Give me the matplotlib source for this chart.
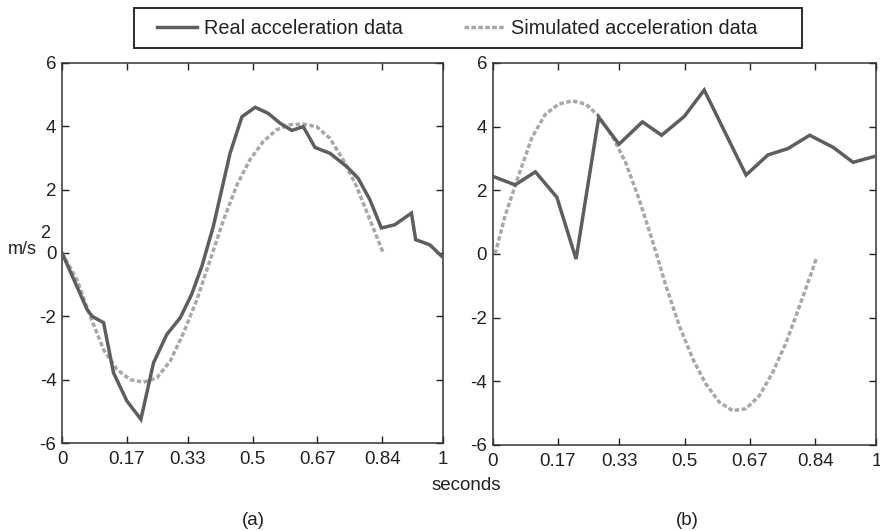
import matplotlib
matplotlib.use('Agg')
import matplotlib.pyplot as plt
from matplotlib.patches import Rectangle

plt.rcParams['font.family'] = ['Liberation Sans', 'DejaVu Sans']
plt.rcParams['axes.unicode_minus'] = False

REAL_C = '#5e5e5e'
SIM_C = '#a8a8a8'
TXT_C = '#222222'

# panel (a)
real_a_x = [0, 0.066, 0.079, 0.109, 0.135, 0.17, 0.207, 0.24, 0.275, 0.31, 0.34, 0.367,
            0.397, 0.419, 0.441, 0.472, 0.507, 0.541, 0.572, 0.603, 0.633, 0.664, 0.703,
            0.747, 0.777, 0.808, 0.838, 0.873, 0.917, 0.928, 0.965, 0.996]
real_a_y = [0, -1.79, -2.0, -2.2, -3.78, -4.67, -5.25, -3.47, -2.57, -2.05, -1.31, -0.42,
            0.84, 2.0, 3.15, 4.3, 4.6, 4.41, 4.1, 3.87, 3.99, 3.33, 3.15,
            2.73, 2.36, 1.68, 0.79, 0.89, 1.26, 0.42, 0.26, -0.1]
sim_a_x = [0, 0.039, 0.074, 0.109, 0.144, 0.179, 0.214, 0.249, 0.284, 0.319, 0.354, 0.389,
           0.424, 0.459, 0.493, 0.528, 0.563, 0.598, 0.633, 0.668, 0.703, 0.738, 0.773,
           0.808, 0.843]
sim_a_y = [0, -0.84, -2.0, -3.05, -3.68, -4.0, -4.08, -3.94, -3.41, -2.52, -1.47, -0.21,
           1.05, 2.15, 2.94, 3.52, 3.89, 4.05, 4.07, 3.99, 3.62, 2.94, 2.1,
           1.05, 0]

# panel (b)
real_b_x = [0, 0.058, 0.111, 0.167, 0.217, 0.276, 0.329, 0.39, 0.44, 0.499, 0.551, 0.66,
            0.717, 0.769, 0.826, 0.887, 0.939, 1.0]
real_b_y = [2.44, 2.17, 2.58, 1.78, -0.16, 4.29, 3.45, 4.15, 3.73, 4.32, 5.15, 2.48,
            3.11, 3.31, 3.73, 3.35, 2.88, 3.08]
sim_b_x = [0.006, 0.032, 0.067, 0.102, 0.137, 0.172, 0.207, 0.242, 0.276, 0.311, 0.346,
           0.381, 0.416, 0.451, 0.486, 0.521, 0.555, 0.59, 0.625, 0.66, 0.695, 0.73,
           0.765, 0.8, 0.834, 0.843]
sim_b_y = [0, 1.2, 2.46, 3.66, 4.39, 4.71, 4.81, 4.71, 4.34, 3.71, 2.88,
           1.73, 0.42, -0.99, -2.25, -3.29, -4.08, -4.65, -4.92, -4.86, -4.45, -3.71,
           -2.77, -1.62, -0.47, -0.14]

xticks = [0, 0.17, 0.33, 0.5, 0.67, 0.84, 1]
xticklabels = ['0', '0.17', '0.33', '0.5', '0.67', '0.84', '1']
yticks = [-6, -4, -2, 0, 2, 4, 6]

fig = plt.figure(figsize=(8.8, 5.31), dpi=100)
ax_a = fig.add_axes([0.0705, 0.1657, 0.433, 0.7157])
ax_b = fig.add_axes([0.560, 0.1620, 0.436, 0.7194])

panels = [(ax_a, real_a_x, real_a_y, sim_a_x, sim_a_y),
          (ax_b, real_b_x, real_b_y, sim_b_x, sim_b_y)]
for ax, rx, ry, sx, sy in panels:
    ax.plot(rx, ry, color=REAL_C, lw=2.5, solid_joinstyle='miter', zorder=3,
            label='Real acceleration data')
    ax.plot(sx, sy, color=SIM_C, lw=2.5, ls=(0, (1.3, 0.7)), zorder=2,
            label='Simulated acceleration data')
    ax.set_xlim(0, 1)
    ax.set_ylim(-6, 6)
    ax.set_xticks(xticks)
    ax.set_xticklabels(xticklabels)
    ax.set_yticks(yticks)
    ax.tick_params(direction='in', top=True, right=True, length=5, width=1,
                   labelsize=13.5, colors=TXT_C)
    ax.tick_params(axis='x', pad=6)
    ax.tick_params(axis='y', pad=4)
    for sp in ax.spines.values():
        sp.set_color('#333333')
        sp.set_linewidth(1.1)

# y label drawn as m/s with a raised 2
fig.text(8 / 880, 1 - 249 / 531, 'm/s', fontsize=13, color=TXT_C, va='center', ha='left')
fig.text(40 / 880, 1 - 234 / 531, '2', fontsize=13, color=TXT_C, va='center', ha='left')
fig.text(0.5295, 0.0866, 'seconds', fontsize=13.5, color=TXT_C, ha='center', va='center')
fig.text(0.2875, 0.019, '(a)', fontsize=13.5, color=TXT_C, ha='center', va='center')
fig.text(0.781, 0.019, '(b)', fontsize=13.5, color=TXT_C, ha='center', va='center')

# legend box across the top
fig.patches.append(Rectangle((134 / 880, 1 - 48 / 531), 668 / 880, 40 / 531,
                             transform=fig.transFigure, fill=False, ec='#2a2a2a', lw=1.4))
h, l = ax_a.get_legend_handles_labels()
leg = fig.legend(h, l, loc='center left', ncol=2, bbox_to_anchor=(149 / 880, 1 - 28 / 531),
                 frameon=False, fontsize=14.3, handlelength=2.0, handletextpad=0.35,
                 columnspacing=3.1, borderaxespad=0)
for t in leg.get_texts():
    t.set_color(TXT_C)

fig.savefig('out.png', dpi=100)
